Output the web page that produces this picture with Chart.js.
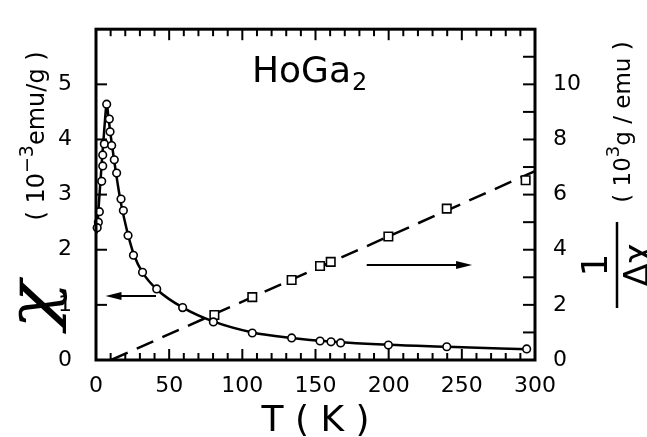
<!DOCTYPE html>
<html><head><meta charset="utf-8">
<script src="https://cdn.jsdelivr.net/npm/chart.js@4.4.0/dist/chart.umd.min.js"></script>
<style>html,body{margin:0;padding:0;background:#fff}</style>
</head><body>
<canvas id="c" width="647" height="437"></canvas>
<script>
// ---- data ----
const chiT = [7.3, 9.1, 9.6, 5.7, 10.7, 4.6, 12.5, 4.6, 14.1, 3.9, 17.1, 18.7, 2.3, 1.6, 0.8, 21.9, 25.6, 31.8, 41.5, 59.2, 80.2, 106.8, 133.7, 153.1, 160.6, 167.2, 199.8, 239.7, 294.3];
const chiV = [4.64, 4.37, 4.14, 3.92, 3.89, 3.72, 3.63, 3.52, 3.39, 3.24, 2.92, 2.71, 2.69, 2.50, 2.40, 2.26, 1.90, 1.59, 1.29, 0.95, 0.69, 0.49, 0.40, 0.345, 0.33, 0.31, 0.27, 0.24, 0.20];
const curveT = [0.5, 2, 4, 6, 7.3, 8.5, 10, 12.5, 14.5, 17, 20, 22, 26, 32, 42, 60, 80, 107, 134, 160, 200, 240, 295];
const curveV = [2.3, 2.85, 3.6, 4.3, 4.66, 4.4, 4.08, 3.6, 3.25, 2.85, 2.48, 2.26, 1.9, 1.58, 1.27, 0.94, 0.7, 0.5, 0.4, 0.335, 0.275, 0.24, 0.195];
const invT = [80.9, 106.8, 133.7, 153.1, 160.4, 199.8, 239.7, 293.6];
const invV = [1.63, 2.28, 2.90, 3.41, 3.56, 4.48, 5.49, 6.52];
const lineT = [10.4, 300];
const lineV = [0, 6.85];
const xTickLabels = [0, 50, 100, 150, 200, 250, 300];
const yLeftTickLabels = [0, 1, 2, 3, 4, 5];
const yRightTickLabels = [0, 2, 4, 6, 8, 10];
const xMinorStep = 10;
const leftArrow = {from: 41, to: 6.5, v: 1.16};     // chi axis
const rightArrow = {from: 185, to: 257, v: 3.45};   // inverse axis

const pts = (xs, ys) => xs.map((x, i) => ({x, y: ys[i]}));
const FONT = "'DejaVu Sans', sans-serif";
Chart.defaults.color = '#000';
Chart.defaults.font.family = FONT;

const deco = {
  id: 'deco',
  afterDraw(chart) {
    const {ctx, chartArea: a, scales: {x, y, y2}} = chart;
    ctx.save();
    ctx.strokeStyle = '#000'; ctx.fillStyle = '#000';
    const line = (x1, y1, x2, y2_) => { ctx.beginPath(); ctx.moveTo(x1, y1); ctx.lineTo(x2, y2_); ctx.stroke(); };
    // ticks
    ctx.lineWidth = 2;
    for (let v = xMinorStep; v < 300; v += xMinorStep) {
      const px = x.getPixelForValue(v);
      const L = v % 50 === 0 ? 11 : 7;
      line(px, a.bottom, px, a.bottom - L);
      line(px, a.top, px, a.top + L);
    }
    for (const v of yLeftTickLabels) {
      if (v === 0) continue;
      const py = y.getPixelForValue(v);
      line(a.left, py, a.left + 11, py);
    }
    for (let v = 1; v < 12; v++) {
      const py = y2.getPixelForValue(v);
      line(a.right, py, a.right - 12, py);
    }
    // frame
    ctx.lineWidth = 3;
    ctx.strokeRect(a.left, a.top, a.right - a.left, a.bottom - a.top);
    // arrows
    const arrow = (x1, x2, yy) => {
      ctx.lineWidth = 2;
      const dir = Math.sign(x2 - x1);
      line(x1, yy, x2 - dir * 10, yy);
      ctx.beginPath();
      ctx.moveTo(x2, yy); ctx.lineTo(x2 - dir * 16, yy - 4); ctx.lineTo(x2 - dir * 16, yy + 4); ctx.closePath(); ctx.fill();
    };
    arrow(x.getPixelForValue(leftArrow.from), x.getPixelForValue(leftArrow.to), y.getPixelForValue(leftArrow.v));
    arrow(x.getPixelForValue(rightArrow.from), x.getPixelForValue(rightArrow.to), y2.getPixelForValue(rightArrow.v));

    const parts = (list) => {
      let w = 0;
      for (const p of list) { ctx.font = p.f; w += ctx.measureText(p.t).width; }
      return w;
    };
    const drawParts = (list, x0) => {
      let cx = x0;
      for (const p of list) { ctx.font = p.f; ctx.fillText(p.t, cx, p.dy || 0); cx += ctx.measureText(p.t).width; }
    };
    ctx.textBaseline = 'alphabetic'; ctx.textAlign = 'left';
    // left title
    const lt = [
      {t: '( 10', f: `24px ${FONT}`},
      {t: '−3', f: `19px ${FONT}`, dy: -11},
      {t: 'emu/g )', f: `24px ${FONT}`}
    ];
    ctx.save(); ctx.translate(44, 136); ctx.rotate(-Math.PI / 2);
    drawParts(lt, -parts(lt) / 2);
    ctx.restore();
    ctx.save(); ctx.translate(36, 305); ctx.rotate(-Math.PI / 2);
    ctx.textAlign = 'center'; ctx.textBaseline = 'middle';
    ctx.font = `italic 64px 'DejaVu Serif', serif`;
    ctx.scale(1.25, 1);
    ctx.fillText('χ', 0, 0);
    ctx.restore();
    // right title
    const rt = [
      {t: '( 10', f: `23px ${FONT}`},
      {t: '3', f: `18px ${FONT}`, dy: -11},
      {t: 'g / emu )', f: `23px ${FONT}`}
    ];
    ctx.save(); ctx.translate(630, 122); ctx.rotate(-Math.PI / 2);
    drawParts(rt, -parts(rt) / 2);
    ctx.restore();
    ctx.save(); ctx.translate(617, 265); ctx.rotate(-Math.PI / 2);
    ctx.textAlign = 'center'; ctx.textBaseline = 'alphabetic';
    ctx.font = `36px ${FONT}`;
    ctx.fillText('1', 0, -10);
    ctx.lineWidth = 2.5; line(-43, 0, 43, 0);
    ctx.font = `34px ${FONT}`;
    ctx.fillText('Δχ', 0, 31);
    ctx.restore();
    // compound name
    ctx.font = `36px ${FONT}`;
    ctx.fillText('HoGa', 252, 82);
    const w = ctx.measureText('HoGa').width;
    ctx.font = `24px ${FONT}`;
    ctx.fillText('2', 252 + w + 1, 90);
    // x title
    ctx.textAlign = 'center';
    ctx.font = `36px ${FONT}`;
    ctx.fillText('T ( K )', (a.left + a.right) / 2, 431);
    ctx.restore();
  }
};

new Chart(document.getElementById('c'), {
  type: 'scatter',
  data: {
    datasets: [
      {data: pts(chiT, chiV), yAxisID: 'y', pointStyle: 'circle', pointRadius: 3.8, pointBackgroundColor: '#fff', pointBorderColor: '#000', pointBorderWidth: 1.6, showLine: false, order: 0, clip: false},
      {data: pts(curveT, curveV), yAxisID: 'y', pointRadius: 0, showLine: true, borderColor: '#000', borderWidth: 2.5, cubicInterpolationMode: 'monotone', order: 1, clip: false},
      {data: pts(invT, invV), yAxisID: 'y2', pointStyle: 'rect', pointRadius: 6, pointBackgroundColor: '#fff', pointBorderColor: '#000', pointBorderWidth: 1.6, showLine: false, order: 0},
      {data: pts(lineT, lineV), yAxisID: 'y2', pointRadius: 0, showLine: true, borderColor: '#000', borderWidth: 2.5, borderDash: [18, 10], order: 1}
    ]
  },
  options: {
    responsive: false, animation: false,
    layout: {padding: {top: 12, left: 0, right: 0, bottom: 0}},
    plugins: {legend: {display: false}, tooltip: {enabled: false}},
    scales: {
      x: {type: 'linear', position: 'bottom', min: 0, max: 300,
        grid: {display: false}, border: {display: false},
        afterBuildTicks: s => { s.ticks = xTickLabels.map(v => ({value: v})); },
        afterFit: s => { s.height = 77; },
        ticks: {font: {size: 22}, padding: 5, maxRotation: 0}},
      y: {type: 'linear', position: 'left', min: 0, max: 6,
        grid: {display: false}, border: {display: false},
        afterBuildTicks: s => { s.ticks = yLeftTickLabels.map(v => ({value: v})); },
        afterFit: s => { s.width = 96; },
        ticks: {font: {size: 22}, padding: 16}},
      y2: {type: 'linear', position: 'right', min: 0, max: 12,
        grid: {display: false}, border: {display: false},
        afterBuildTicks: s => { s.ticks = yRightTickLabels.map(v => ({value: v})); },
        afterFit: s => { s.width = 112; },
        ticks: {font: {size: 22}, padding: 10}}
    }
  },
  plugins: [deco]
});
</script>
</body></html>
